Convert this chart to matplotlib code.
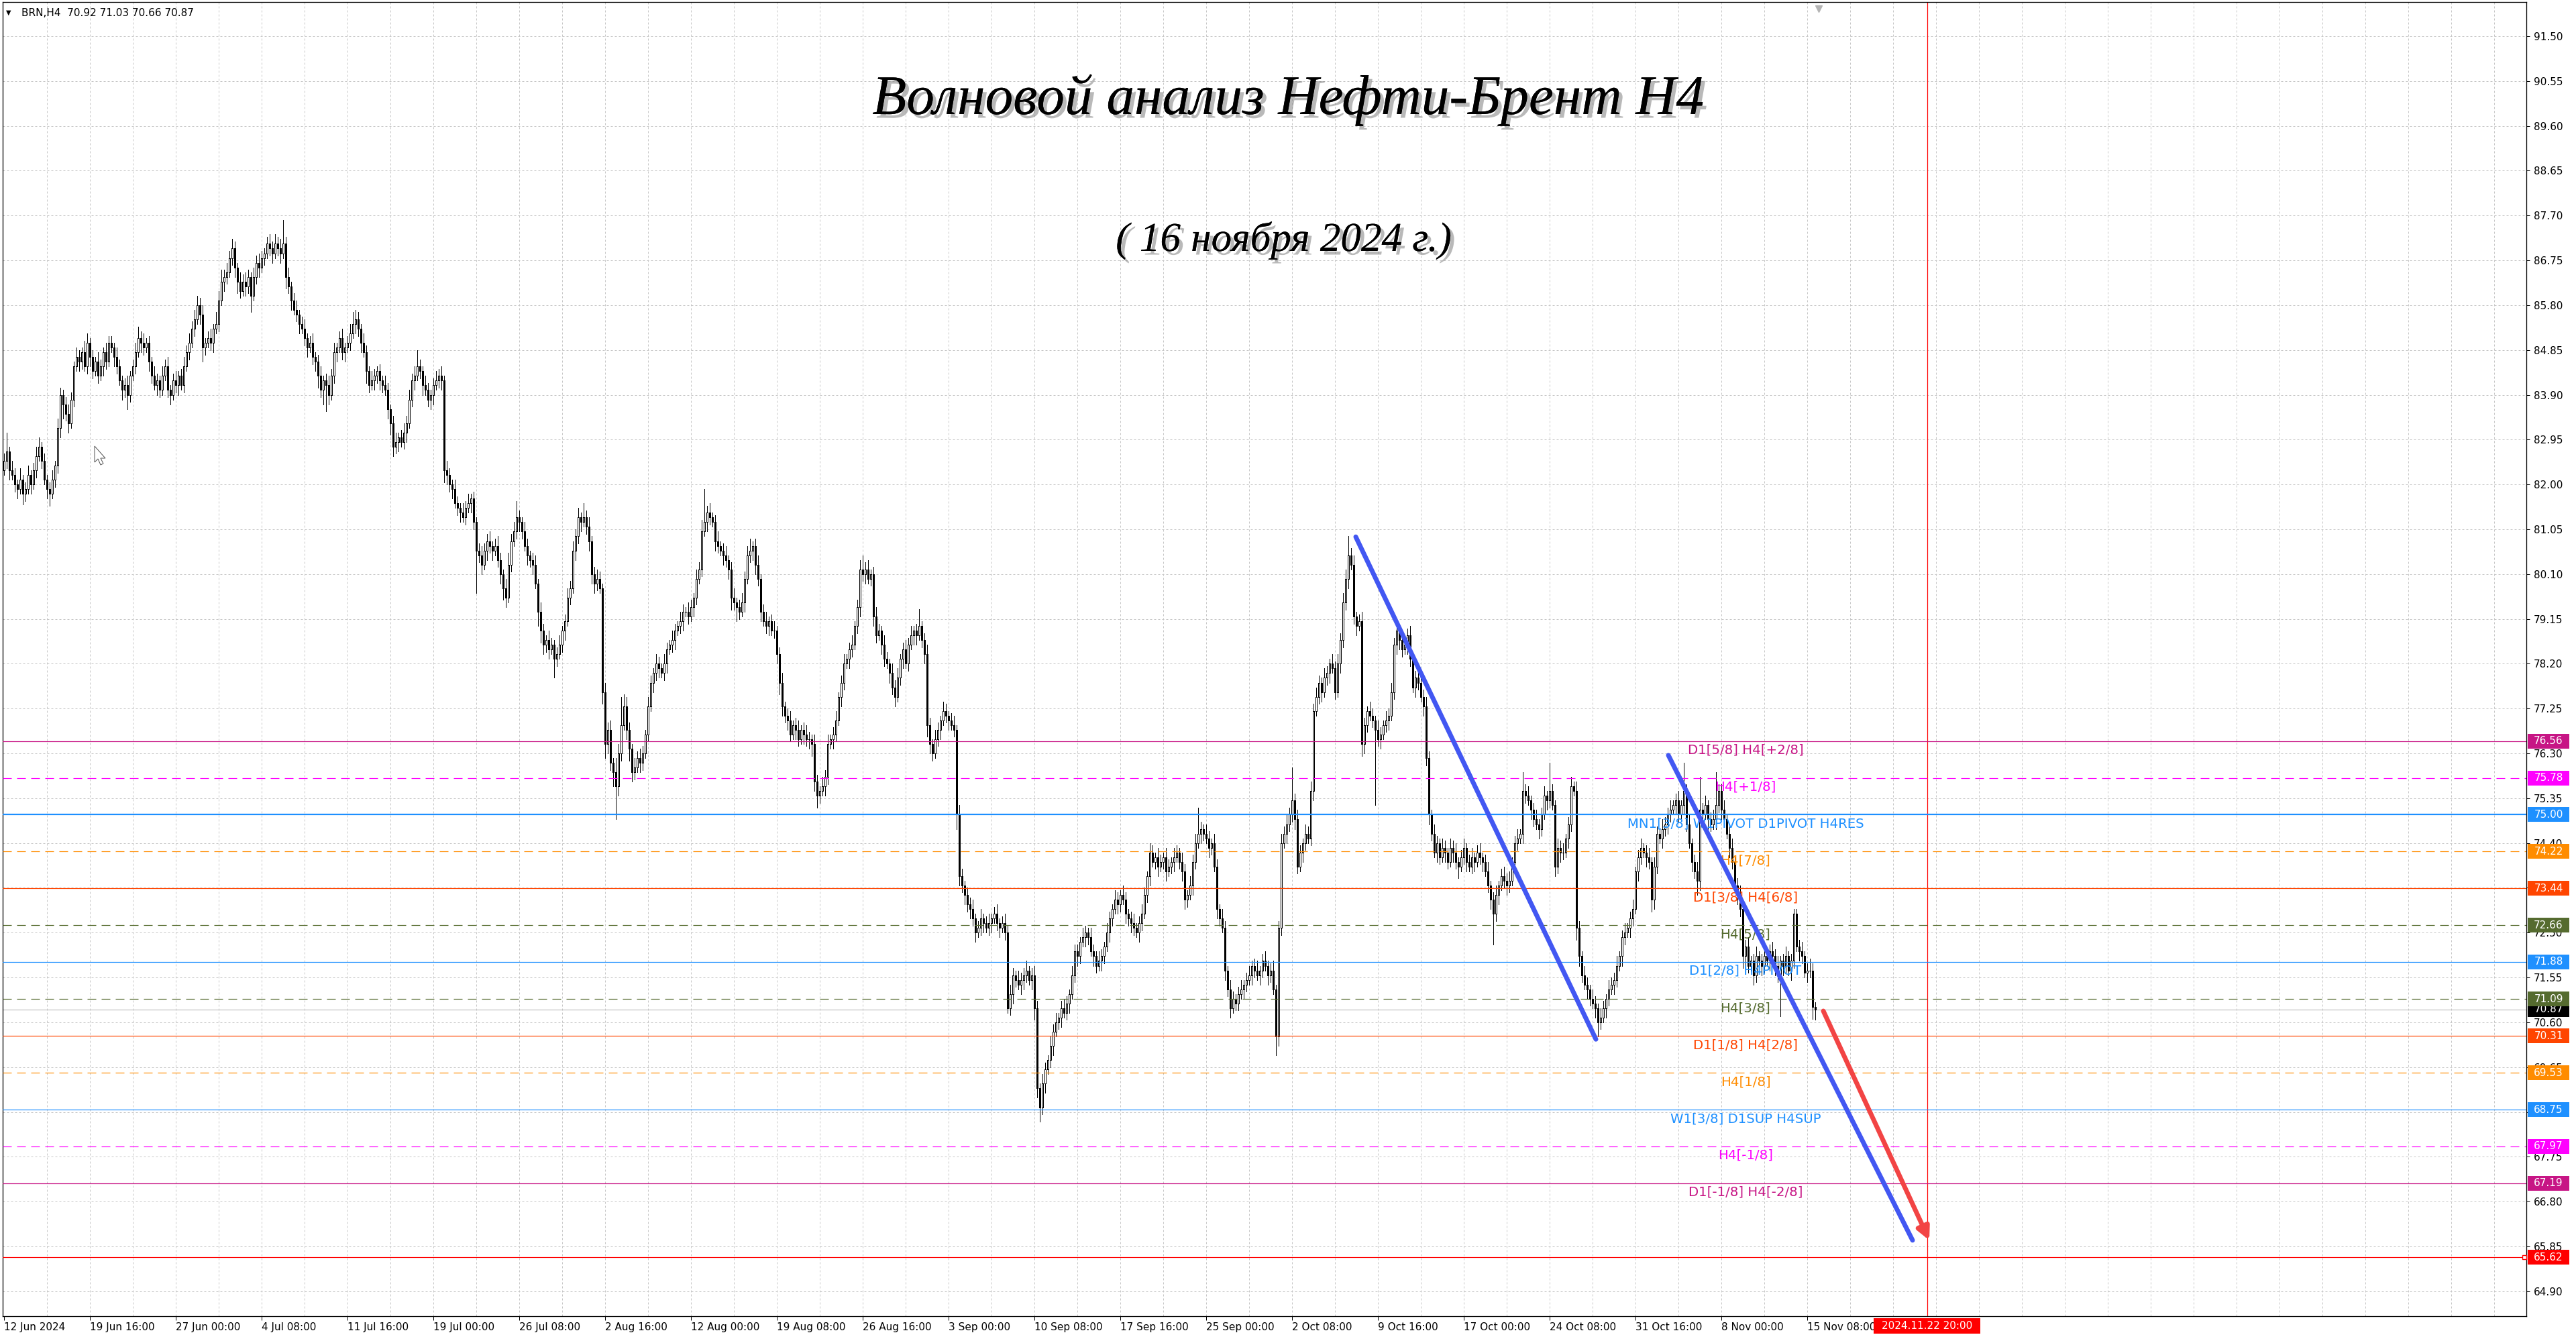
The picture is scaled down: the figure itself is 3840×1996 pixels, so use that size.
import numpy as np
import matplotlib
matplotlib.use("Agg")
from matplotlib import pyplot as plt
from matplotlib import patheffects as pe
from matplotlib.patches import Rectangle, Polygon

plt.rcParams['font.family'] = ['DejaVu Sans']
plt.rcParams['lines.scale_dashes'] = False

W, H, DPI = 3840, 1996, 100
PX = 72.0 / DPI  # one pixel in points

# ---------------- data ----------------
first_open = 82.3

# H4 closes, 20 bars per row
closes = [
    82.5, 82.7, 82.3, 82.2, 82.0, 81.9, 82.1, 81.8, 81.9, 82.2, 82.0, 82.3, 82.6, 82.8, 82.5, 82.1, 81.9, 81.8, 82.1, 82.4,
    83.2, 83.9, 83.7, 83.5, 83.3, 83.8, 84.5, 84.7, 84.6, 84.8, 84.5, 85.0, 84.7, 84.4, 84.6, 84.3, 84.5, 84.8, 84.6, 85.0,
    84.9, 84.7, 84.5, 84.2, 84.0, 84.1, 83.9, 84.3, 84.5, 84.8, 85.1, 85.0, 84.9, 85.0, 84.6, 84.3, 84.1, 84.2, 84.0, 84.3,
    84.5, 84.0, 83.9, 84.2, 84.1, 84.3, 84.1, 84.5, 84.8, 85.0, 85.3, 85.5, 85.8, 85.6, 84.9, 85.0, 85.1, 85.0, 85.3, 85.4,
    85.9, 86.3, 86.4, 86.5, 86.8, 87.0, 86.6, 86.3, 86.1, 86.3, 86.2, 86.4, 86.0, 86.4, 86.7, 86.6, 86.8, 86.9, 87.1, 87.0,
    86.9, 87.1, 87.0, 86.9, 87.1, 86.4, 86.2, 85.9, 85.7, 85.6, 85.4, 85.3, 85.1, 84.9, 85.0, 84.7, 84.6, 84.3, 84.0, 84.2,
    84.1, 83.9, 84.3, 84.8, 84.9, 85.1, 84.8, 84.9, 85.0, 85.2, 85.4, 85.5, 85.3, 85.0, 84.8, 84.4, 84.1, 84.2, 84.3, 84.4,
    84.2, 84.1, 84.0, 83.6, 83.3, 82.8, 82.9, 83.0, 82.9, 83.1, 83.3, 83.8, 84.2, 84.3, 84.5, 84.4, 84.1, 84.0, 83.8, 83.9,
    84.1, 84.2, 84.3, 84.2, 82.3, 82.2, 82.0, 81.9, 81.6, 81.5, 81.4, 81.3, 81.5, 81.6, 81.7, 81.2, 80.6, 80.5, 80.3, 80.6,
    80.8, 80.7, 80.6, 80.7, 80.4, 80.1, 79.8, 79.6, 80.3, 80.8, 81.0, 81.3, 81.2, 81.0, 80.7, 80.5, 80.4, 80.3, 79.9, 79.3,
    78.9, 78.6, 78.7, 78.5, 78.6, 78.3, 78.4, 78.6, 78.9, 79.1, 79.6, 79.8, 80.6, 80.9, 81.3, 81.2, 81.3, 81.1, 80.8, 80.1,
    79.9, 80.0, 79.8, 77.6, 76.5, 76.8, 76.1, 75.9, 75.6, 76.3, 76.9, 77.3, 76.8, 76.4, 75.9, 76.0, 76.2, 76.1, 76.3, 76.7,
    77.3, 77.8, 78.0, 78.2, 78.1, 78.0, 78.2, 78.5, 78.6, 78.7, 78.9, 79.0, 79.1, 79.3, 79.3, 79.2, 79.4, 79.6, 80.0, 80.2,
    81.0, 81.2, 81.4, 81.3, 81.2, 80.8, 80.7, 80.6, 80.5, 80.4, 80.2, 79.6, 79.5, 79.4, 79.3, 79.5, 80.0, 80.5, 80.6, 80.7,
    80.3, 80.0, 79.3, 79.1, 79.0, 79.1, 78.9, 78.9, 78.4, 77.8, 77.3, 77.1, 77.0, 76.7, 76.9, 76.8, 76.6, 76.8, 76.7, 76.6,
    76.6, 76.5, 75.7, 75.4, 75.5, 75.6, 75.8, 76.5, 76.6, 76.7, 77.0, 77.5, 77.8, 78.2, 78.3, 78.5, 78.6, 79.0, 79.4, 80.2,
    80.1, 80.2, 80.0, 80.1, 79.2, 78.8, 78.9, 78.6, 78.3, 78.2, 78.0, 77.7, 77.5, 77.9, 78.3, 78.5, 78.2, 78.6, 78.8, 78.9,
    78.8, 79.0, 78.7, 78.4, 76.9, 76.5, 76.3, 76.6, 76.8, 77.0, 77.2, 77.1, 77.0, 76.9, 76.8, 75.0, 73.7, 73.5, 73.3, 73.1,
    73.0, 72.8, 72.5, 72.6, 72.8, 72.7, 72.6, 72.7, 72.8, 72.9, 72.7, 72.6, 72.7, 72.5, 70.9, 71.2, 71.6, 71.5, 71.4, 71.5,
    71.6, 71.7, 71.5, 71.6, 70.9, 69.2, 68.8, 69.3, 69.6, 69.8, 70.1, 70.4, 70.6, 70.7, 70.9, 70.8, 71.0, 71.2, 71.6, 72.1,
    72.0, 72.3, 72.4, 72.5, 72.4, 72.1, 72.0, 71.8, 71.9, 72.0, 72.2, 72.5, 72.8, 73.0, 73.2, 73.1, 73.3, 73.2, 72.9, 72.8,
    72.7, 72.6, 72.5, 72.7, 72.9, 73.3, 73.7, 74.2, 74.0, 74.1, 73.9, 74.0, 74.1, 73.8, 73.9, 74.0, 74.1, 74.2, 74.0, 73.8,
    73.2, 73.3, 73.5, 74.0, 74.4, 74.6, 74.7, 74.6, 74.5, 74.3, 74.4, 73.9, 73.0, 72.8, 72.6, 71.7, 71.3, 70.9, 71.1, 71.0,
    71.2, 71.3, 71.4, 71.5, 71.6, 71.8, 71.7, 71.6, 71.7, 71.9, 71.8, 71.6, 71.7, 71.3, 70.3, 72.6, 74.4, 74.6, 74.8, 75.0,
    75.3, 74.9, 73.9, 74.2, 74.4, 74.6, 74.5, 75.5, 77.2, 77.5, 77.8, 77.6, 77.9, 78.0, 78.2, 78.1, 77.6, 78.2, 78.7, 79.5,
    80.0, 80.5, 80.3, 79.2, 79.0, 79.1, 76.5, 76.9, 77.2, 77.1, 77.0, 76.8, 76.6, 76.7, 76.9, 77.0, 77.1, 77.6, 78.6, 78.9,
    78.7, 78.5, 78.6, 78.8, 78.3, 77.7, 77.9, 77.8, 77.5, 77.3, 76.2, 75.0, 74.6, 74.2, 74.4, 74.1, 74.3, 74.2, 74.0, 74.3,
    74.2, 74.0, 73.9, 74.1, 74.3, 74.0, 73.9, 74.1, 74.0, 74.2, 74.1, 74.0, 73.8, 73.5, 73.2, 72.9, 73.3, 73.5, 73.7, 73.6,
    73.5, 73.6, 74.0, 74.4, 74.5, 74.6, 75.5, 75.4, 75.3, 75.1, 74.9, 74.8, 74.7, 75.0, 75.4, 75.3, 75.5, 75.2, 73.9, 74.3,
    74.2, 74.2, 74.5, 74.8, 75.6, 75.5, 72.6, 72.0, 71.6, 71.4, 71.3, 71.1, 71.0, 70.9, 70.6, 70.7, 70.9, 71.1, 71.3, 71.4,
    71.5, 71.8, 72.0, 72.4, 72.5, 72.6, 72.8, 73.0, 73.8, 74.1, 74.3, 74.2, 74.1, 74.0, 73.2, 73.9, 74.6, 74.5, 74.7, 74.8,
    75.0, 75.1, 75.2, 75.3, 75.0, 75.2, 75.5, 74.8, 74.4, 74.0, 73.8, 73.6, 75.1, 75.0, 75.2, 74.9, 74.8, 74.9, 75.2, 75.5,
    75.1, 74.9, 74.6, 74.3, 74.0, 73.5, 73.3, 73.0, 72.0, 72.2, 71.8, 71.9, 71.6, 72.0, 71.9, 71.8, 72.0, 71.9, 72.1, 72.0,
    71.8, 71.6, 71.9, 71.8, 72.0, 71.7, 71.9, 72.9, 72.2, 72.1, 72.0, 71.65, 71.7, 71.7, 70.92, 70.87,
]

# wick length above the body, in cents
wick_up = [
    15, 40, 10, 20, 15, 10, 25, 10, 15, 20, 10, 15, 20, 20, 10, 15, 10, 15, 20, 10,
    20, 15, 10, 15, 20, 15, 10, 20, 15, 10, 25, 20, 10, 15, 10, 20, 15, 10, 20, 15,
    15, 10, 20, 15, 10, 15, 20, 10, 15, 20, 25, 15, 20, 10, 15, 10, 20, 15, 10, 20,
    15, 20, 10, 15, 20, 10, 15, 20, 15, 20, 15, 20, 20, 15, 20, 10, 15, 20, 10, 25,
    20, 25, 15, 20, 15, 20, 15, 10, 20, 15, 20, 15, 10, 20, 15, 20, 15, 10, 15, 20,
    15, 20, 15, 20, 50, 15, 20, 10, 15, 20, 10, 15, 20, 10, 15, 20, 10, 15, 20, 10,
    15, 20, 15, 20, 10, 15, 20, 10, 15, 20, 25, 20, 15, 10, 20, 15, 10, 20, 15, 10,
    15, 10, 20, 15, 10, 15, 20, 10, 15, 20, 15, 20, 15, 20, 35, 15, 10, 20, 15, 10,
    15, 20, 15, 20, 10, 20, 15, 10, 20, 15, 10, 20, 15, 20, 10, 15, 10, 15, 20, 15,
    15, 20, 10, 15, 20, 15, 10, 20, 25, 15, 20, 35, 15, 10, 20, 15, 10, 15, 20, 10,
    20, 15, 10, 20, 15, 10, 15, 20, 10, 15, 20, 15, 20, 15, 20, 10, 30, 15, 20, 10,
    15, 20, 15, 10, 20, 15, 20, 10, 30, 20, 60, 25, 20, 15, 10, 20, 15, 20, 15, 10,
    20, 15, 10, 20, 15, 10, 20, 15, 10, 20, 15, 10, 20, 15, 10, 20, 15, 10, 20, 15,
    25, 70, 15, 20, 10, 15, 20, 10, 15, 20, 10, 15, 20, 10, 15, 20, 15, 20, 25, 10,
    15, 20, 10, 15, 20, 10, 15, 20, 10, 15, 20, 10, 15, 20, 10, 15, 20, 10, 15, 20,
    15, 10, 20, 15, 10, 20, 15, 20, 10, 15, 20, 10, 15, 20, 10, 15, 20, 10, 15, 20,
    30, 15, 20, 10, 15, 20, 15, 10, 20, 15, 10, 20, 15, 20, 10, 15, 20, 15, 20, 10,
    15, 36, 10, 15, 20, 15, 10, 20, 15, 10, 20, 15, 10, 15, 20, 10, 20, 15, 10, 15,
    15, 20, 10, 15, 20, 10, 15, 20, 10, 15, 20, 10, 15, 20, 15, 20, 15, 10, 20, 15,
    15, 20, 10, 15, 20, 15, 10, 20, 15, 10, 20, 15, 20, 10, 15, 20, 15, 10, 20, 15,
    15, 10, 20, 15, 10, 20, 15, 10, 20, 15, 10, 20, 15, 10, 20, 15, 10, 20, 15, 10,
    15, 20, 10, 15, 20, 15, 10, 20, 15, 10, 20, 15, 10, 20, 15, 10, 20, 15, 10, 20,
    15, 10, 20, 15, 20, 55, 15, 10, 20, 15, 10, 20, 15, 10, 20, 15, 10, 20, 15, 10,
    15, 20, 10, 15, 20, 10, 15, 20, 10, 15, 20, 10, 15, 20, 10, 15, 20, 15, 20, 15,
    70, 15, 20, 15, 10, 20, 15, 20, 15, 20, 15, 10, 20, 15, 10, 20, 15, 20, 15, 20,
    20, 40, 15, 20, 10, 15, 20, 15, 10, 20, 15, 10, 20, 15, 10, 20, 15, 20, 15, 10,
    15, 20, 10, 15, 20, 10, 15, 20, 10, 15, 20, 15, 10, 20, 15, 10, 20, 15, 10, 20,
    15, 20, 10, 15, 20, 10, 15, 20, 10, 15, 20, 10, 15, 20, 10, 15, 20, 10, 15, 20,
    15, 20, 10, 15, 20, 10, 40, 15, 20, 10, 15, 20, 10, 15, 20, 10, 60, 15, 10, 20,
    15, 20, 10, 15, 20, 10, 20, 15, 10, 20, 15, 10, 20, 15, 10, 20, 15, 10, 20, 15,
    15, 20, 10, 15, 20, 10, 15, 20, 10, 15, 20, 10, 15, 20, 10, 20, 15, 10, 20, 15,
    15, 20, 10, 15, 20, 10, 60, 15, 20, 10, 15, 20, 70, 15, 20, 10, 15, 20, 70, 15,
    15, 20, 10, 15, 20, 10, 15, 20, 10, 15, 20, 10, 15, 20, 10, 15, 20, 10, 15, 20,
    15, 20, 10, 15, 20, 10, 15, 10, 10, 15, 20, 10, 15, 25, 15, 11,
]

# wick length below the body, in cents
wick_dn = [
    10, 15, 20, 10, 15, 20, 10, 22, 15, 10, 20, 10, 15, 10, 15, 10, 20, 25, 10, 15,
    15, 20, 30, 15, 20, 10, 15, 10, 20, 15, 10, 15, 20, 15, 10, 15, 10, 20, 15, 10,
    10, 20, 15, 10, 20, 15, 30, 15, 10, 15, 10, 20, 15, 10, 20, 15, 10, 20, 15, 10,
    10, 15, 20, 10, 15, 20, 10, 15, 10, 15, 10, 15, 10, 20, 30, 15, 10, 15, 20, 10,
    15, 10, 20, 15, 10, 15, 20, 25, 15, 10, 20, 15, 35, 10, 15, 20, 10, 15, 10, 15,
    20, 10, 15, 20, 10, 25, 15, 20, 10, 15, 20, 10, 15, 20, 10, 15, 20, 25, 15, 30,
    55, 20, 10, 15, 20, 10, 15, 20, 10, 15, 10, 20, 15, 20, 10, 25, 15, 10, 20, 15,
    20, 15, 10, 20, 25, 20, 15, 20, 10, 15, 20, 10, 15, 20, 10, 15, 20, 10, 15, 20,
    20, 10, 15, 20, 25, 20, 15, 20, 10, 15, 20, 10, 15, 10, 20, 15, 90, 15, 20, 10,
    20, 15, 20, 10, 15, 20, 25, 20, 10, 15, 10, 15, 20, 15, 10, 20, 15, 20, 10, 30,
    25, 20, 15, 20, 10, 40, 15, 10, 15, 20, 10, 15, 10, 20, 15, 20, 10, 15, 20, 20,
    20, 15, 10, 25, 30, 20, 15, 30, 70, 20, 15, 10, 20, 25, 20, 15, 10, 20, 15, 10,
    15, 10, 20, 15, 20, 10, 15, 20, 10, 15, 20, 10, 15, 20, 10, 15, 10, 20, 15, 10,
    15, 10, 20, 15, 10, 20, 15, 10, 20, 15, 20, 25, 15, 30, 15, 10, 20, 10, 15, 20,
    20, 15, 20, 10, 15, 20, 10, 15, 20, 25, 20, 15, 20, 15, 10, 20, 15, 10, 20, 15,
    20, 25, 20, 25, 15, 10, 20, 15, 10, 20, 15, 10, 20, 15, 10, 20, 15, 10, 15, 20,
    15, 20, 10, 15, 20, 15, 10, 20, 15, 10, 20, 15, 20, 10, 15, 20, 10, 15, 10, 20,
    20, 10, 15, 20, 25, 20, 15, 10, 15, 20, 10, 15, 20, 10, 15, 30, 20, 15, 20, 15,
    20, 15, 20, 10, 15, 20, 10, 15, 20, 10, 15, 20, 10, 15, 10, 15, 20, 15, 10, 20,
    20, 15, 10, 20, 25, 20, 30, 15, 20, 10, 15, 20, 10, 15, 20, 10, 15, 20, 10, 15,
    20, 15, 10, 20, 15, 10, 20, 15, 10, 20, 15, 10, 20, 15, 10, 20, 15, 10, 20, 15,
    20, 15, 10, 20, 15, 10, 15, 20, 10, 15, 20, 10, 15, 20, 10, 15, 20, 10, 15, 20,
    20, 15, 10, 20, 15, 10, 20, 15, 10, 20, 15, 10, 20, 15, 10, 20, 15, 20, 10, 15,
    15, 10, 20, 15, 10, 20, 15, 10, 20, 15, 10, 20, 15, 10, 40, 20, 15, 10, 20, 15,
    15, 20, 15, 10, 20, 15, 10, 15, 20, 10, 15, 20, 10, 15, 20, 10, 15, 10, 20, 15,
    15, 20, 10, 15, 20, 10, 25, 20, 15, 10, 15, 160, 15, 20, 10, 15, 20, 10, 15, 20,
    20, 15, 10, 20, 15, 10, 20, 15, 10, 20, 15, 20, 15, 10, 20, 15, 10, 20, 15, 10,
    20, 15, 25, 10, 15, 20, 10, 15, 20, 10, 15, 20, 10, 15, 20, 65, 15, 20, 10, 15,
    20, 15, 10, 20, 15, 10, 20, 15, 10, 20, 15, 10, 20, 15, 10, 20, 15, 10, 20, 15,
    20, 15, 10, 20, 15, 10, 25, 20, 15, 10, 20, 15, 10, 20, 30, 15, 10, 20, 15, 10,
    20, 15, 10, 20, 15, 10, 20, 15, 10, 20, 15, 10, 20, 15, 25, 20, 15, 10, 20, 15,
    20, 15, 10, 20, 15, 10, 20, 15, 10, 20, 15, 30, 20, 15, 10, 20, 15, 10, 20, 15,
    20, 15, 10, 20, 15, 10, 20, 15, 25, 20, 15, 10, 20, 15, 10, 20, 15, 10, 20, 15,
    20, 15, 87, 20, 15, 10, 20, 15, 10, 20, 15, 10, 20, 15, 25, 21,
]

header_text = "BRN,H4  70.92 71.03 70.66 70.87"
title = "Волновой анализ Нефти-Брент H4"
subtitle = "( 16 ноября 2024 г.)"

date_ticks = [0, 32, 64, 96, 128, 160, 192, 224, 256, 288, 320, 352, 384, 416,
              448, 480, 512, 544, 576, 608, 640, 672]
date_labels = ["12 Jun 2024", "19 Jun 16:00", "27 Jun 00:00", "4 Jul 08:00", "11 Jul 16:00",
               "19 Jul 00:00", "26 Jul 08:00", "2 Aug 16:00", "12 Aug 00:00", "19 Aug 08:00",
               "26 Aug 16:00", "3 Sep 00:00", "10 Sep 08:00", "17 Sep 16:00", "25 Sep 00:00",
               "2 Oct 08:00", "9 Oct 16:00", "17 Oct 00:00", "24 Oct 08:00", "31 Oct 16:00",
               "8 Nov 00:00", "15 Nov 08:00"]
price_ticks = [91.50, 90.55, 89.60, 88.65, 87.70, 86.75, 85.80, 84.85, 83.90, 82.95,
               82.00, 81.05, 80.10, 79.15, 78.20, 77.25, 76.30, 75.35, 74.40, 73.45,
               72.50, 71.55, 70.60, 69.65, 68.70, 67.75, 66.80, 65.85, 64.90]

level_prices = [76.56, 75.78, 75.00, 74.22, 73.44, 72.66, 71.88, 71.09,
                70.31, 69.53, 68.75, 67.97, 67.19]
level_names = ["D1[5/8] H4[+2/8]", "H4[+1/8]", "MN1[3/8] W1PIVOT D1PIVOT H4RES", "H4[7/8]",
               "D1[3/8] H4[6/8]", "H4[5/8]", "D1[2/8] H4PIVOT", "H4[3/8]",
               "D1[1/8] H4[2/8]", "H4[1/8]", "W1[3/8] D1SUP H4SUP", "H4[-1/8]", "D1[-1/8] H4[-2/8]"]
last_price = 70.87
target_price = 65.62

# trend lines and forecast arrow: (bar index, price)
trend_from = [(503.75, 80.89), (620.25, 76.26)]
trend_to = [(593.25, 70.24), (711.25, 65.98)]
arrow_from = (678.0, 70.84)
arrow_to = (717.5, 65.98)
cursor_bar = 716.75
cursor_label = "2024.11.22 20:00"

# ---------------- styles ----------------
level_colors = ['#C71585', '#FF00FF', '#1E90FF', '#FF8C00', '#FF4500', '#556B2F', '#1E90FF',
                '#556B2F', '#FF4500', '#FF8C00', '#1E90FF', '#FF00FF', '#C71585']
level_dashed = [False, True, False, True, False, True, False, True, False, True, False, True, False]
grid_col = '#c6c6c6'
trend_col = '#4257F2'
arrow_col = '#F24444'

assert len(closes) == len(wick_up) == len(wick_dn)

fig = plt.figure(figsize=(W / DPI, H / DPI), dpi=DPI)
fig.patch.set_facecolor('white')
ax = fig.add_axes([4 / W, 1 - 1962 / H, 3762 / W, 1959 / H])
ax.set_xlim(-0.5, 940)
ax.set_ylim(64.371, 92.225)

# grid
dash_grid = (0, (3 * PX, 3 * PX))
for p in price_ticks:
    ax.axhline(p, color=grid_col, lw=PX, ls=dash_grid, zorder=0)
for i in range(16, 941, 16):
    ax.axvline(i, color=grid_col, lw=PX, ls=dash_grid, zorder=0)

# candles (crisp, like the terminal draws them)
c = np.array(closes)
o = np.concatenate([[first_open], c[:-1]])
hi = np.maximum(o, c) + np.array(wick_up) / 100.0
lo = np.minimum(o, c) - np.array(wick_dn) / 100.0
x = np.arange(len(c))
ax.vlines(x, lo, hi, color='black', lw=PX, zorder=3, antialiased=False)
bull = c >= o
ax.bar(x[bull], (c - o)[bull], bottom=o[bull], width=0.55, color='white',
       edgecolor='black', lw=PX, zorder=4, antialiased=False)
ax.bar(x[~bull], (o - c)[~bull], bottom=c[~bull], width=0.55, color='black',
       edgecolor='black', lw=PX, zorder=4, antialiased=False)

# murrey levels
dash_lvl = (0, (13 * PX, 8 * PX))
for p, name, col, dashed in zip(level_prices, level_names, level_colors, level_dashed):
    lw = 2.2 * PX if p == 75.00 else 1.2 * PX
    ax.axhline(p, color=col, lw=lw, ls=dash_lvl if dashed else '-', zorder=5)
    ax.text(649, p - 4 / 70.33, name, color=col, ha='center', va='top',
            fontsize=14.2, zorder=6)
ax.axhline(last_price, color='#c0c0c0', lw=1.2 * PX, zorder=2)
ax.axhline(target_price, color='#FF0000', lw=1.2 * PX, zorder=5)
ax.plot([939.3], [target_price], marker='s', ms=4, mfc='white', mec='red', mew=1,
        clip_on=False, zorder=6)

# forecast red vertical line
ax.axvline(cursor_bar, color='#FF0000', lw=1.2 * PX, zorder=2)

# trend lines and arrow
for (x0, y0), (x1, y1) in zip(trend_from, trend_to):
    ax.plot([x0, x1], [y0, y1], color=trend_col, lw=7 * PX, solid_capstyle='round', zorder=7)
ax.annotate('', xy=arrow_to, xytext=arrow_from,
            arrowprops=dict(arrowstyle='-|>', color=arrow_col, lw=7 * PX,
                            mutation_scale=28, shrinkA=0, shrinkB=0, capstyle='round'),
            zorder=7)

# axes styling
for s in ax.spines.values():
    s.set_color('black')
    s.set_linewidth(1.3 * PX)
ax.yaxis.tick_right()
ax.set_yticks(price_ticks, [f"{v:.2f}" for v in price_ticks])
ax.tick_params(axis='y', direction='out', length=5 * PX, width=PX, pad=6 * PX,
               labelsize=11, colors='black')
ax.set_xticks(date_ticks, date_labels)
for lbl in ax.get_xticklabels():
    lbl.set_ha('left')
ax.tick_params(axis='x', direction='out', length=6 * PX, width=PX, pad=3 * PX,
               labelsize=11, colors='black')

# price boxes on the right axis
ytr = ax.get_yaxis_transform()
box_h = 22 / 70.33
box_x0 = 1 + 2 / 3762
box_w = 62 / 3762
box_prices = [last_price] + level_prices + [target_price]
box_colors = ['black'] + level_colors + ['#FF0000']
for k, (p, col) in enumerate(zip(box_prices, box_colors)):
    ax.add_patch(Rectangle((box_x0, p - box_h / 2), box_w, box_h, transform=ytr,
                           facecolor=col, edgecolor='none', clip_on=False, zorder=10 + k * 0.01))
    ax.text(box_x0 + box_w / 2, p, f"{p:.2f}", transform=ytr, color='white', ha='center',
            va='center', fontsize=11, clip_on=False, zorder=10.005 + k * 0.01)

# time box at the bottom
xtr = ax.get_xaxis_transform()
ax.add_patch(Rectangle((696.75, -26 / 1959), 39.75, 23 / 1959, transform=xtr,
                       facecolor='#FF0000', edgecolor='none', clip_on=False, zorder=10))
ax.text(cursor_bar, -14.5 / 1959, cursor_label, transform=xtr, color='white', ha='center',
        va='center', fontsize=11, clip_on=False, zorder=11)

# chart shift marker
ax.plot([676.25], [0.995], marker='v', ms=7, color='#b4b4b4', transform=xtr,
        clip_on=False, zorder=9)

# header
fig.text(13 / W, 1 - 19 / H, '▼', fontsize=7, ha='center', va='center')
fig.text(32 / W, 1 - 19 / H, header_text, fontsize=11, ha='left', va='center')

# mouse pointer
cur = np.array([(0, 0), (0, 24), (5, 19), (9, 28), (13, 26), (9, 18), (16, 18)], float)
cur_pts = [((141 + px) / W, 1 - (665 + py) / H) for px, py in cur]
fig.add_artist(Polygon(cur_pts, closed=True, transform=fig.transFigure,
                       facecolor='white', edgecolor='#555555', lw=PX))

# titles
shadow = [pe.withSimplePatchShadow(offset=(4, -4), shadow_rgbFace='#808080', alpha=0.55),
          pe.Normal()]
fig.text(1921 / W, 1 - 170 / H, title, fontsize=60, family='Liberation Serif',
         style='italic', ha='center', va='baseline', path_effects=shadow)
fig.text(1914 / W, 1 - 374 / H, subtitle, fontsize=44, family='Liberation Serif',
         style='italic', ha='center', va='baseline', path_effects=shadow)

fig.savefig('out.png', dpi=DPI, facecolor='white')
